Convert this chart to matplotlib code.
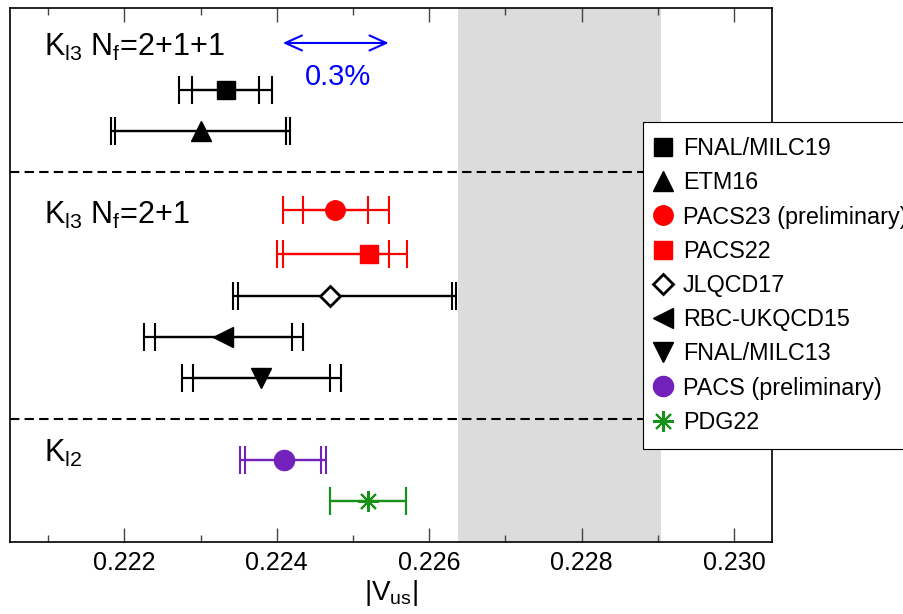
import matplotlib
matplotlib.use('Agg')
import matplotlib.pyplot as plt
from matplotlib.lines import Line2D

plt.rcParams['font.family'] = ['Liberation Sans', 'DejaVu Sans']
plt.rcParams['mathtext.default'] = 'regular'

# |Vus| results
labels = ['FNAL/MILC19', 'ETM16', 'PACS23 (preliminary)', 'PACS22', 'JLQCD17',
          'RBC-UKQCD15', 'FNAL/MILC13', 'PACS (preliminary)', 'PDG22']
vus = [0.22333, 0.22300, 0.22477, 0.22521, 0.22470, 0.22330, 0.22380, 0.22409, 0.22520]
rows = [2, 3, 4.92, 6, 7, 8, 9, 11, 12]
stat_lo = [0.00044, 0.00112, 0.00043, 0.00113, 0.00121, 0.00090, 0.00090, 0.00050, 0.00050]
stat_hi = [0.00044, 0.00112, 0.00043, 0.00027, 0.00160, 0.00090, 0.00090, 0.00049, 0.00050]
tot_lo = [0.00061, 0.00117, 0.00069, 0.00121, 0.00127, 0.00104, 0.00104, 0.00057, 0.00050]
tot_hi = [0.00061, 0.00117, 0.00070, 0.00050, 0.00165, 0.00104, 0.00104, 0.00056, 0.00050]

band = (0.22638, 0.22904)
separators = [4, 10]
groups = [r'K$_{l3}$ N$_f$=2+1+1', r'K$_{l3}$ N$_f$=2+1', r'K$_{l2}$']
group_rows = [0.95, 5.06, 10.86]

purple = '#7222bb'
green = '#179117'
markers = ['s', '^', 'o', 's', 'D', '<', 'v', 'o', (8, 2, 0)]
colors = ['black', 'black', 'red', 'red', 'black', 'black', 'black', purple, green]
sizes = [12.5, 14, 14, 12.5, 10, 14, 14, 14.5, 15]

fig = plt.figure(figsize=(9.04, 6.14), dpi=100)
ax = fig.add_axes([10/904, 1 - 541.7/614, 762/904, 533.4/614])

ax.axvspan(band[0], band[1], color='#dcdcdc', lw=0, zorder=0)
for s in separators:
    ax.axhline(s, color='black', lw=1.5, ls=(0, (4.5, 2.5)), zorder=1)

handles = []
for i in range(len(vus)):
    c = colors[i]
    ax.errorbar(vus[i], rows[i], xerr=[[tot_lo[i]], [tot_hi[i]]], fmt='none',
                ecolor=c, elinewidth=1.6, capsize=10, capthick=1.5, zorder=2)
    ax.errorbar(vus[i], rows[i], xerr=[[stat_lo[i]], [stat_hi[i]]], fmt='none',
                ecolor=c, elinewidth=1.6, capsize=10, capthick=1.5, zorder=2)
    mfc = 'white' if markers[i] == 'D' else c
    mew = 2 if markers[i] == 'D' else (1.5 if markers[i] == (8, 2, 0) else 1)
    ax.plot(vus[i], rows[i], marker=markers[i], ms=sizes[i], mfc=mfc, mec=c,
            mew=mew, ls='none', zorder=3)
    handles.append(Line2D([], [], marker=markers[i], ms=sizes[i], mfc=mfc, mec=c,
                          mew=mew, ls='none', label=labels[i]))

for g, r in zip(groups, group_rows):
    ax.text(0.22094, r, g, fontsize=22, va='center', ha='left')

ax.annotate('', xy=(0.22547, 0.845), xytext=(0.22408, 0.845),
            arrowprops=dict(arrowstyle='<->,head_length=0.4,head_width=0.18',
                            color='blue', lw=1.5, mutation_scale=30,
                            shrinkA=0, shrinkB=0))
ax.text(0.22480, 1.68, '0.3%', color='blue', fontsize=21, ha='center', va='center')

ax.set_xlim(0.2205, 0.2305)
ax.set_ylim(13, 0)
ax.set_xticks([0.222, 0.224, 0.226, 0.228, 0.230])
ax.set_xticklabels(['0.222', '0.224', '0.226', '0.228', '0.230'])
ax.set_xticks([0.221, 0.223, 0.225, 0.227, 0.229], minor=True)
ax.set_yticks([])
ax.tick_params(axis='x', which='both', direction='in', top=True, bottom=True,
               labelsize=18, color='#444444', width=1, pad=7)
ax.tick_params(axis='x', which='major', length=10)
ax.tick_params(axis='x', which='minor', length=5)
for sp in ax.spines.values():
    sp.set_linewidth(1.2)
ax.set_xlabel('|V$_{us}$|', fontsize=20, labelpad=2)

# legend runs off the right edge of the figure, as in the original
leg = fig.legend(handles=handles, loc='upper left',
                 bbox_to_anchor=(643/904, 1 - 122/614), bbox_transform=fig.transFigure,
                 fontsize=16.8, frameon=True, fancybox=False, framealpha=1,
                 edgecolor='black', handlelength=0.42, handletextpad=0.65,
                 borderpad=0.65, borderaxespad=0, labelspacing=0.48)
leg.get_frame().set_linewidth(0.8)

fig.savefig('out.png', dpi=100)
